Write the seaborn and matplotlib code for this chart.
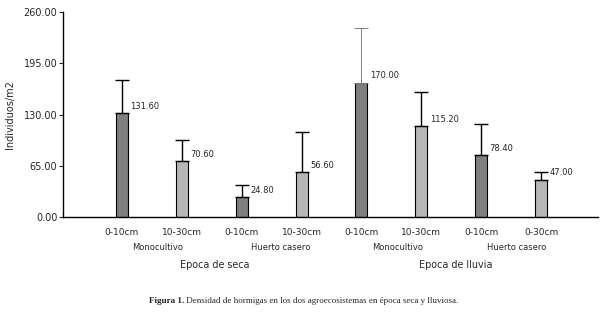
import matplotlib
matplotlib.use("Agg")
import matplotlib.pyplot as plt
import seaborn as sns
import pandas as pd

# data
bar_ids = ["s_mono_0", "s_mono_1", "s_huer_0", "s_huer_1", "l_mono_0", "l_mono_1", "l_huer_0", "l_huer_1"]
depth_labels = ["0-10cm", "10-30cm", "0-10cm", "10-30cm", "0-10cm", "10-30cm", "0-10cm", "0-30cm"]
values = [131.60, 70.60, 24.80, 56.60, 170.00, 115.20, 78.40, 47.00]
errors_up = [42.0, 27.0, 15.8, 50.8, 69.3, 42.9, 39.1, 10.5]
depth_group = ["0-10", "10-30", "0-10", "10-30", "0-10", "10-30", "0-10", "10-30"]
system_labels = ["Monocultivo", "Huerto casero", "Monocultivo", "Huerto casero"]
season_labels = ["Epoca de seca", "Epoca de lluvia"]
yticks = [0, 65, 130, 195, 260]

df = pd.DataFrame({"id": bar_ids, "valor": values, "prof": depth_group})

sns.set_style("white")
plt.rcParams["font.family"] = ["DejaVu Sans"]

fig = plt.figure(figsize=(6.01, 3.15), dpi=100)
ax = fig.add_axes([0.1048, 0.311, 0.8902, 0.651])

sns.barplot(data=df, x="id", y="valor", hue="prof", order=bar_ids,
            palette={"0-10": "#7f7f7f", "10-30": "#b6b6b6"},
            width=0.2, dodge=False, edgecolor="black", linewidth=0.8,
            legend=False, ax=ax)

for i, (v, e) in enumerate(zip(values, errors_up)):
    col = "#808080" if i == 4 else "black"
    lw = 0.7 if i == 4 else 1.0
    ax.errorbar(i, v, yerr=[[0], [e]], fmt="none", ecolor=col, elinewidth=lw,
                capsize=4.7, capthick=lw)
    ax.text(i + 0.14, v + 9, f"{v:.2f}", fontsize=6, va="center", ha="left")

ax.set_xlim(-0.983, 7.95)
ax.set_ylim(0, 260)
ax.set_yticks(yticks)
ax.set_yticklabels([f"{t:.2f}" for t in yticks], fontsize=7)
ax.set_xticks(range(len(bar_ids)))
ax.set_xticklabels(depth_labels, fontsize=6.5)
ax.tick_params(axis="x", length=0, pad=8)
ax.tick_params(axis="y", length=3, width=0.8, pad=1, direction="out", left=True)
ax.set_xlabel("")
ax.set_ylabel("Individuos/m2", fontsize=7, labelpad=4)
ax.yaxis.set_label_coords(-0.09, 0.5)
for s in ["top", "right"]:
    ax.spines[s].set_visible(False)
for s in ["left", "bottom"]:
    ax.spines[s].set_color("black")
    ax.spines[s].set_linewidth(1.0)

trans = ax.get_xaxis_transform()
for xpos, lab in zip([0.6, 2.65, 4.6, 6.6], system_labels):
    ax.text(xpos, -0.151, lab, fontsize=6, ha="center", va="center", transform=trans)
for xpos, lab in zip([1.55, 5.58], season_labels):
    ax.text(xpos, -0.234, lab, fontsize=6.9, ha="center", va="center", transform=trans)

# caption
fig.canvas.draw()
r = fig.canvas.get_renderer()
t1 = fig.text(0.248, 0.0444, "Figura 1.", fontsize=6.6, fontweight="bold",
              family="Liberation Serif", va="center", ha="left")
bb = t1.get_window_extent(renderer=r)
x2 = bb.x1 / fig.bbox.width
fig.text(x2, 0.0444, " Densidad de hormigas en los dos agroecosistemas en época seca y lluviosa.",
         fontsize=6.5, family="Liberation Serif", va="center", ha="left")

fig.savefig("out.png", dpi=100)
